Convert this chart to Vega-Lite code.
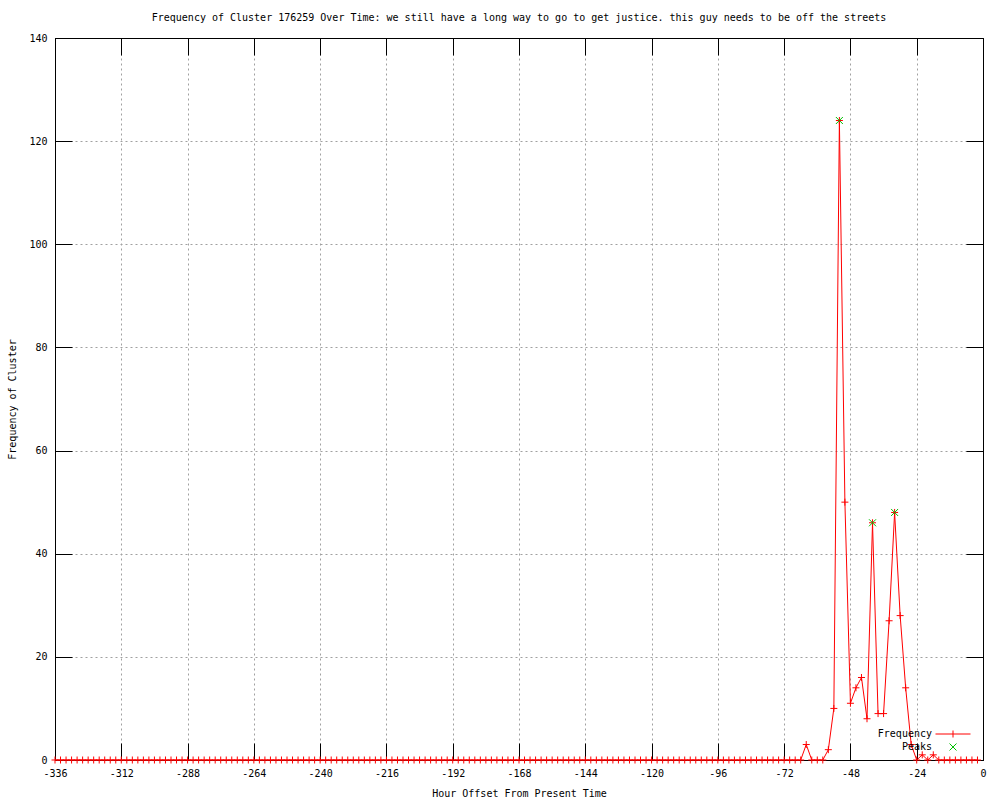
{
  "$schema": "https://vega.github.io/schema/vega-lite/v6.json",
  "width": 928,
  "height": 722,
  "autosize": {"type": "none"},
  "padding": {"left": 55, "top": 38, "right": 17, "bottom": 40},
  "background": "white",
  "title": {
    "text": "Frequency of Cluster 176259 Over Time: we still have a long way to go to get justice. this guy needs to be off the streets",
    "font": "DejaVu Sans Mono",
    "fontSize": 10,
    "fontWeight": "normal",
    "color": "black",
    "anchor": "middle",
    "offset": 10
  },
  "config": {
    "view": {"stroke": "black", "strokeWidth": 1},
    "axis": {
      "labelFont": "DejaVu Sans Mono",
      "labelFontSize": 10,
      "labelColor": "black",
      "titleFont": "DejaVu Sans Mono",
      "titleFontSize": 10,
      "titleFontWeight": "normal",
      "titleColor": "black",
      "domainColor": "black",
      "tickColor": "black",
      "gridColor": "#a0a0a0",
      "gridDash": [2, 3],
      "gridWidth": 1,
      "labelPadding": 8,
      "labelFlush": false
    }
  },
  "datasets": {
    "freq": [
      {"h": -336, "c": 0}, {"h": -334, "c": 0}, {"h": -332, "c": 0}, {"h": -330, "c": 0}, {"h": -328, "c": 0}, {"h": -326, "c": 0}, {"h": -324, "c": 0}, {"h": -322, "c": 0}, {"h": -320, "c": 0}, {"h": -318, "c": 0},
      {"h": -316, "c": 0}, {"h": -314, "c": 0}, {"h": -312, "c": 0}, {"h": -310, "c": 0}, {"h": -308, "c": 0}, {"h": -306, "c": 0}, {"h": -304, "c": 0}, {"h": -302, "c": 0}, {"h": -300, "c": 0}, {"h": -298, "c": 0},
      {"h": -296, "c": 0}, {"h": -294, "c": 0}, {"h": -292, "c": 0}, {"h": -290, "c": 0}, {"h": -288, "c": 0}, {"h": -286, "c": 0}, {"h": -284, "c": 0}, {"h": -282, "c": 0}, {"h": -280, "c": 0}, {"h": -278, "c": 0},
      {"h": -276, "c": 0}, {"h": -274, "c": 0}, {"h": -272, "c": 0}, {"h": -270, "c": 0}, {"h": -268, "c": 0}, {"h": -266, "c": 0}, {"h": -264, "c": 0}, {"h": -262, "c": 0}, {"h": -260, "c": 0}, {"h": -258, "c": 0},
      {"h": -256, "c": 0}, {"h": -254, "c": 0}, {"h": -252, "c": 0}, {"h": -250, "c": 0}, {"h": -248, "c": 0}, {"h": -246, "c": 0}, {"h": -244, "c": 0}, {"h": -242, "c": 0}, {"h": -240, "c": 0}, {"h": -238, "c": 0},
      {"h": -236, "c": 0}, {"h": -234, "c": 0}, {"h": -232, "c": 0}, {"h": -230, "c": 0}, {"h": -228, "c": 0}, {"h": -226, "c": 0}, {"h": -224, "c": 0}, {"h": -222, "c": 0}, {"h": -220, "c": 0}, {"h": -218, "c": 0},
      {"h": -216, "c": 0}, {"h": -214, "c": 0}, {"h": -212, "c": 0}, {"h": -210, "c": 0}, {"h": -208, "c": 0}, {"h": -206, "c": 0}, {"h": -204, "c": 0}, {"h": -202, "c": 0}, {"h": -200, "c": 0}, {"h": -198, "c": 0},
      {"h": -196, "c": 0}, {"h": -194, "c": 0}, {"h": -192, "c": 0}, {"h": -190, "c": 0}, {"h": -188, "c": 0}, {"h": -186, "c": 0}, {"h": -184, "c": 0}, {"h": -182, "c": 0}, {"h": -180, "c": 0}, {"h": -178, "c": 0},
      {"h": -176, "c": 0}, {"h": -174, "c": 0}, {"h": -172, "c": 0}, {"h": -170, "c": 0}, {"h": -168, "c": 0}, {"h": -166, "c": 0}, {"h": -164, "c": 0}, {"h": -162, "c": 0}, {"h": -160, "c": 0}, {"h": -158, "c": 0},
      {"h": -156, "c": 0}, {"h": -154, "c": 0}, {"h": -152, "c": 0}, {"h": -150, "c": 0}, {"h": -148, "c": 0}, {"h": -146, "c": 0}, {"h": -144, "c": 0}, {"h": -142, "c": 0}, {"h": -140, "c": 0}, {"h": -138, "c": 0},
      {"h": -136, "c": 0}, {"h": -134, "c": 0}, {"h": -132, "c": 0}, {"h": -130, "c": 0}, {"h": -128, "c": 0}, {"h": -126, "c": 0}, {"h": -124, "c": 0}, {"h": -122, "c": 0}, {"h": -120, "c": 0}, {"h": -118, "c": 0},
      {"h": -116, "c": 0}, {"h": -114, "c": 0}, {"h": -112, "c": 0}, {"h": -110, "c": 0}, {"h": -108, "c": 0}, {"h": -106, "c": 0}, {"h": -104, "c": 0}, {"h": -102, "c": 0}, {"h": -100, "c": 0}, {"h": -98, "c": 0},
      {"h": -96, "c": 0}, {"h": -94, "c": 0}, {"h": -92, "c": 0}, {"h": -90, "c": 0}, {"h": -88, "c": 0}, {"h": -86, "c": 0}, {"h": -84, "c": 0}, {"h": -82, "c": 0}, {"h": -80, "c": 0}, {"h": -78, "c": 0},
      {"h": -76, "c": 0}, {"h": -74, "c": 0}, {"h": -72, "c": 0}, {"h": -70, "c": 0}, {"h": -68, "c": 0}, {"h": -66, "c": 0}, {"h": -64, "c": 3}, {"h": -62, "c": 0}, {"h": -60, "c": 0}, {"h": -58, "c": 0},
      {"h": -56, "c": 2}, {"h": -54, "c": 10}, {"h": -52, "c": 124}, {"h": -50, "c": 50}, {"h": -48, "c": 11}, {"h": -46, "c": 14}, {"h": -44, "c": 16}, {"h": -42, "c": 8}, {"h": -40, "c": 46}, {"h": -38, "c": 9},
      {"h": -36, "c": 9}, {"h": -34, "c": 27}, {"h": -32, "c": 48}, {"h": -30, "c": 28}, {"h": -28, "c": 14}, {"h": -26, "c": 3}, {"h": -24, "c": 0}, {"h": -22, "c": 1}, {"h": -20, "c": 0}, {"h": -18, "c": 1},
      {"h": -16, "c": 0}, {"h": -14, "c": 0}, {"h": -12, "c": 0}, {"h": -10, "c": 0}, {"h": -8, "c": 0}, {"h": -6, "c": 0}, {"h": -4, "c": 0}, {"h": -2, "c": 0}
    ],
    "peaks": [
      {"h": -52, "c": 124}, {"h": -40, "c": 46}, {"h": -32, "c": 48}
    ]
  },
  "layer": [
    {
      "data": {"name": "freq"},
      "mark": {"type": "line", "strokeWidth": 1},
      "encoding": {
        "x": {
          "field": "h", "type": "quantitative",
          "scale": {"domain": [-336, 0], "nice": false, "zero": false},
          "axis": {
            "orient": "bottom",
            "values": [-336, -312, -288, -264, -240, -216, -192, -168, -144, -120, -96, -72, -48, -24, 0],
            "grid": true,
            "ticks": false,
            "labelExpr": "datum.value + ''",
            "title": "Hour Offset From Present Time",
            "titlePadding": 10
          }
        },
        "y": {
          "field": "c", "type": "quantitative",
          "scale": {"domain": [0, 140], "nice": false},
          "axis": {
            "orient": "left",
            "values": [0, 20, 40, 60, 80, 100, 120, 140],
            "grid": true,
            "ticks": false,
            "labelExpr": "datum.value + ''",
            "title": "Frequency of Cluster",
            "titlePadding": 11
          }
        },
        "color": {
          "datum": "Frequency", "type": "nominal",
          "scale": {"domain": ["Frequency", "Peaks"], "range": ["#ff0000", "#00c000"]},
          "legend": {
            "orient": "none",
            "legendX": 893,
            "legendY": 691,
            "title": null,
            "padding": 0,
            "symbolSize": 49,
            "labelFont": "DejaVu Sans Mono",
            "labelFontSize": 10,
            "labelColor": "black",
            "labelAlign": "right",
            "labelOffset": -26,
            "rowPadding": 1,
            "encode": {
              "symbols": {
                "update": {
                  "shape": {"signal": "datum.value == 'Peaks' ? 'M-1,-1L1,1M-1,1L1,-1' : 'M-5,0H5M0,-1V1'"},
                  "stroke": {"signal": "datum.value == 'Peaks' ? '#00c000' : '#ff0000'"},
                  "fill": {"value": "transparent"},
                  "strokeWidth": {"value": 1},
                  "opacity": {"value": 1},
                  "strokeOpacity": {"value": 1}
                }
              }
            }
          }
        }
      }
    },
    {
      "data": {"name": "freq"},
      "mark": {"type": "point", "shape": "M-1,0H1M0,-1V1", "filled": false, "size": 49, "strokeWidth": 1, "opacity": 1},
      "encoding": {
        "x": {
          "field": "h", "type": "quantitative",
          "axis": {
            "orient": "top",
            "values": [-336, -312, -288, -264, -240, -216, -192, -168, -144, -120, -96, -72, -48, -24, 0],
            "grid": false, "labels": false, "tickSize": -17, "title": null
          }
        },
        "y": {
          "field": "c", "type": "quantitative",
          "axis": {
            "orient": "right",
            "values": [0, 20, 40, 60, 80, 100, 120, 140],
            "grid": false, "labels": false, "tickSize": -17, "title": null
          }
        },
        "color": {"datum": "Frequency", "type": "nominal"}
      }
    },
    {
      "data": {"name": "peaks"},
      "mark": {"type": "point", "shape": "M-1,-1L1,1M-1,1L1,-1", "filled": false, "size": 49, "strokeWidth": 1, "opacity": 1},
      "encoding": {
        "x": {
          "field": "h", "type": "quantitative",
          "axis": {
            "orient": "bottom",
            "values": [-336, -312, -288, -264, -240, -216, -192, -168, -144, -120, -96, -72, -48, -24, 0],
            "grid": false, "labels": false, "tickSize": -17, "title": null
          }
        },
        "y": {
          "field": "c", "type": "quantitative",
          "axis": {
            "orient": "left",
            "values": [0, 20, 40, 60, 80, 100, 120, 140],
            "grid": false, "labels": false, "tickSize": -17, "title": null
          }
        },
        "color": {"datum": "Peaks", "type": "nominal"}
      }
    }
  ],
  "resolve": {"axis": {"x": "independent", "y": "independent"}}
}
